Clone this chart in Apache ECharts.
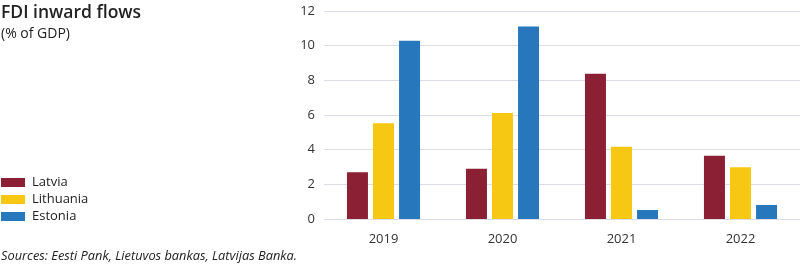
<!DOCTYPE html>
<html><head><meta charset="utf-8">
<script src="https://cdn.jsdelivr.net/npm/echarts@6/dist/echarts.min.js"></script>
<style>html,body{margin:0;padding:0;background:#fff}#c{width:800px;height:269px}</style>
</head><body><div id="c"></div>
<script>
const categories = ['2019', '2020', '2021', '2022'];
const latvia = [2.69, 2.9, 8.38, 3.65];
const lithuania = [5.52, 6.12, 4.17, 2.98];
const estonia = [10.29, 11.1, 0.52, 0.81];
const yTicks = [0, 2, 4, 6, 8, 10, 12];

const chart = echarts.init(document.getElementById('c'));
const font = '"Open Sans", sans-serif';
chart.setOption({
  animation: false,
  textStyle: { fontFamily: font },
  title: [
    { text: 'FDI inward flows', left: 1, top: 4, padding: 0, textStyle: { fontFamily: font, fontSize: 17.5, fontWeight: 600, color: '#222' } },
    { text: '(% of GDP)', left: 1, top: 27, padding: 0, textStyle: { fontFamily: font, fontSize: 14, fontWeight: 'normal', color: '#222' } },
    { text: 'Sources: Eesti Pank, Lietuvos bankas, Latvijas Banka.', left: 1, top: 250, padding: 0, textStyle: { fontFamily: font, fontSize: 12.8, fontStyle: 'italic', fontWeight: 'normal', color: '#222' } }
  ],
  legend: {
    orient: 'vertical', left: 1, top: 176, padding: 0, itemWidth: 24, itemHeight: 9, itemGap: 4,
    icon: 'rect', textStyle: { fontFamily: font, fontSize: 13, color: '#222', padding: [0, 0, 0, 2] }
  },
  grid: { left: 324, right: 0, top: 11, bottom: 50, containLabel: false },
  xAxis: {
    type: 'category', data: categories,
    axisLine: { show: true, lineStyle: { color: '#dcdce6' } },
    axisTick: { show: false },
    axisLabel: { fontFamily: font, fontSize: 13, color: '#333', margin: 14 }
  },
  yAxis: {
    type: 'value', min: yTicks[0], max: yTicks[yTicks.length - 1], interval: 2,
    axisLine: { show: false }, axisTick: { show: false },
    splitLine: { lineStyle: { color: '#dcdce6' } },
    axisLabel: { fontFamily: font, fontSize: 13, color: '#333', margin: 9 }
  },
  series: [
    { name: 'Latvia', type: 'bar', data: latvia, itemStyle: { color: '#8b2035' }, barWidth: 21, barGap: '24%' },
    { name: 'Lithuania', type: 'bar', data: lithuania, itemStyle: { color: '#f6c814' }, barWidth: 21, barGap: '24%' },
    { name: 'Estonia', type: 'bar', data: estonia, itemStyle: { color: '#2777bd' }, barWidth: 21, barGap: '24%' }
  ]
});
</script></body></html>
